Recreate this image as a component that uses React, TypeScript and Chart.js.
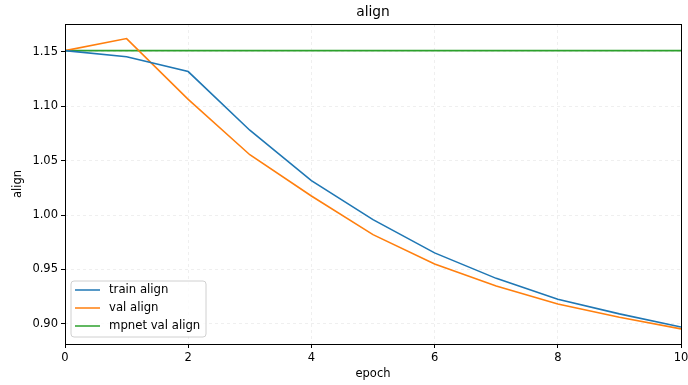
import React, { useEffect, useRef } from "react";
import { Chart, registerables } from "chart.js";

Chart.register(...registerables);

const epochs = [0, 1, 2, 3, 4, 5, 6, 7, 8, 9, 10];
const trainAlign = [1.151, 1.1454, 1.1318, 1.0779, 1.0316, 0.9958, 0.9652, 0.9418, 0.9227, 0.9092, 0.8971];
const valAlign = [1.151, 1.1621, 1.1062, 1.0554, 1.0175, 0.982, 0.9551, 0.9347, 0.9183, 0.906, 0.8954];
const mpnetX = [0, 10];
const mpnetY = [1.151, 1.151];
const xTicks = [0, 2, 4, 6, 8, 10];
const yTicks = [0.9, 0.95, 1.0, 1.05, 1.1, 1.15];
const seriesNames = ["train align", "val align", "mpnet val align"];
const colors = ["#1f77b4", "#ff7f0e", "#2ca02c"];
const titleText = "align";
const xLabel = "epoch";
const yLabel = "align";

const FONT = "DejaVu Sans";

export default function App() {
  const ref = useRef<HTMLCanvasElement>(null);
  useEffect(() => {
    document.body.style.margin = "0";
    const canvas = ref.current!;
    const decor = {
      id: "decor",
      afterDraw(chart: any) {
        const ctx = chart.ctx;
        const a = chart.chartArea;
        ctx.save();
        ctx.strokeStyle = "#000";
        ctx.lineWidth = 1;
        ctx.setLineDash([]);
        ctx.strokeRect(Math.round(a.left) + 0.5, Math.round(a.top) + 0.5, Math.round(a.right - a.left), Math.round(a.bottom - a.top));
        const cx = (a.left + a.right) / 2;
        ctx.fillStyle = "#000";
        ctx.textAlign = "center";
        ctx.textBaseline = "middle";
        ctx.font = `13.8px "${FONT}"`;
        ctx.fillText(titleText, cx, 12);
        ctx.font = `11.5px "${FONT}"`;
        ctx.fillText(xLabel, cx, 374);
        ctx.save();
        ctx.translate(18, (a.top + a.bottom) / 2);
        ctx.rotate(-Math.PI / 2);
        ctx.fillText(yLabel, 0, 0);
        ctx.restore();
        // legend
        const bx = 71, by = 281, bw = 135, bh = 56, r = 3;
        ctx.beginPath();
        ctx.moveTo(bx + r, by);
        ctx.lineTo(bx + bw - r, by);
        ctx.arcTo(bx + bw, by, bx + bw, by + r, r);
        ctx.lineTo(bx + bw, by + bh - r);
        ctx.arcTo(bx + bw, by + bh, bx + bw - r, by + bh, r);
        ctx.lineTo(bx + r, by + bh);
        ctx.arcTo(bx, by + bh, bx, by + bh - r, r);
        ctx.lineTo(bx, by + r);
        ctx.arcTo(bx, by, bx + r, by, r);
        ctx.closePath();
        ctx.fillStyle = "rgba(255,255,255,0.8)";
        ctx.fill();
        ctx.strokeStyle = "#d0d0d0";
        ctx.lineWidth = 1;
        ctx.stroke();
        ctx.textAlign = "left";
        ctx.font = `11.7px "${FONT}"`;
        seriesNames.forEach((n, i) => {
          const y = 290 + i * 18;
          ctx.strokeStyle = colors[i];
          ctx.lineWidth = 1.5;
          ctx.beginPath();
          ctx.moveTo(75, y);
          ctx.lineTo(100, y);
          ctx.stroke();
          ctx.fillStyle = "#000";
          ctx.fillText(n, 109, y);
        });
        ctx.restore();
      },
    };
    const mk = (label: string, xs: number[], ys: number[], c: string) => ({
      label,
      data: xs.map((x, i) => ({ x, y: ys[i] })),
      borderColor: c,
      backgroundColor: c,
      borderWidth: 1.6,
      pointRadius: 0,
      tension: 0,
      fill: false,
    });
    const gridOpts = { color: "#efefef", tickColor: "#000", tickLength: 4, tickWidth: 1 };
    const chart = new Chart(canvas, {
      type: "line",
      data: {
        datasets: [
          mk(seriesNames[0], epochs, trainAlign, colors[0]),
          mk(seriesNames[1], epochs, valAlign, colors[1]),
          mk(seriesNames[2], mpnetX, mpnetY, colors[2]),
        ],
      },
      options: {
        animation: false,
        responsive: false,
        layout: { padding: { left: 0, right: 7, top: 24, bottom: 0 } },
        plugins: { legend: { display: false }, title: { display: false }, tooltip: { enabled: false } },
        scales: {
          x: {
            type: "linear",
            min: 0,
            max: 10,
            afterBuildTicks: (s: any) => { s.ticks = xTicks.map((v) => ({ value: v })); },
            afterFit: (s: any) => { s.height = 41; s.paddingLeft = 0; s.paddingRight = 0; },
            ticks: { color: "#000", font: { family: FONT, size: 11.5 }, padding: 3, maxRotation: 0, callback: (v: any) => String(v) },
            grid: gridOpts,
            border: { display: false, dash: [3, 3] },
          },
          y: {
            type: "linear",
            min: 0.8815,
            max: 1.1755,
            afterBuildTicks: (s: any) => { s.ticks = yTicks.map((v) => ({ value: v })); },
            afterFit: (s: any) => { s.width = 65; s.paddingTop = 0; s.paddingBottom = 0; },
            ticks: { color: "#000", font: { family: FONT, size: 11.5 }, padding: 3, callback: (v: any) => Number(v).toFixed(2) },
            grid: gridOpts,
            border: { display: false, dash: [3, 3] },
          },
        },
      },
      plugins: [decor],
    } as any);
    return () => chart.destroy();
  }, []);
  return (
    <div style={{ width: 688, height: 385 }}>
      <canvas ref={ref} width={688} height={385} />
    </div>
  );
}
